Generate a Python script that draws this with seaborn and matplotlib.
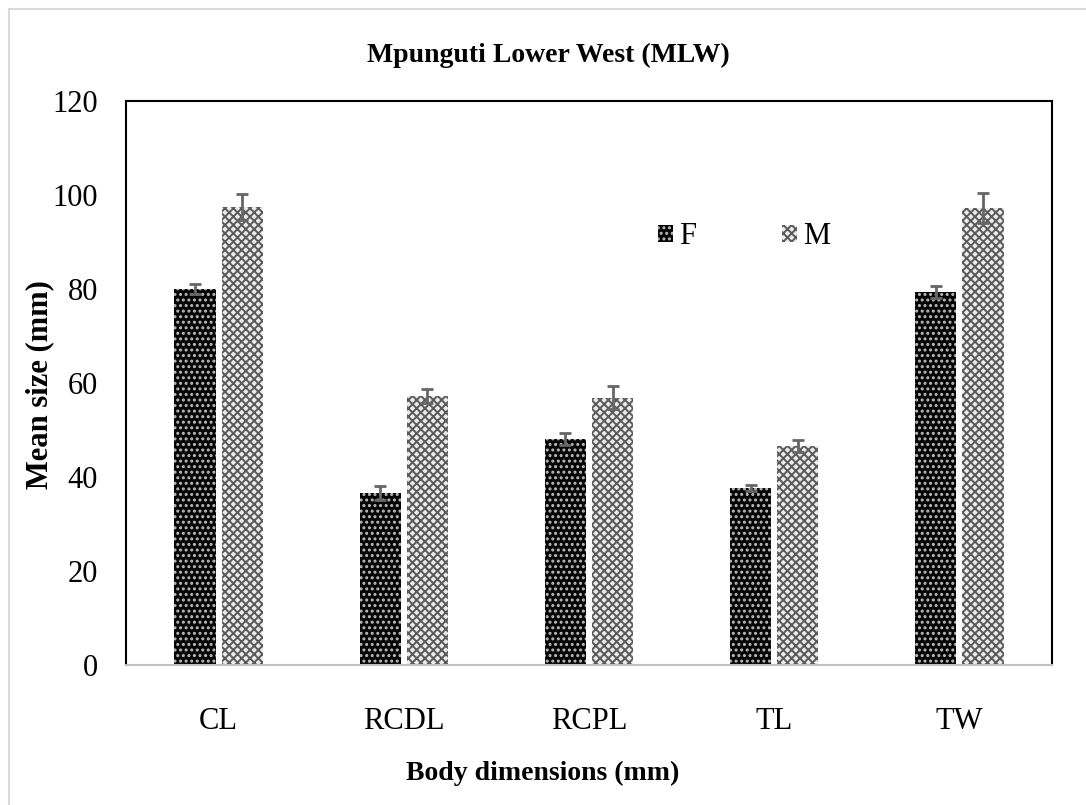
import matplotlib
matplotlib.use("Agg")
import matplotlib.pyplot as plt
import seaborn as sns
import pandas as pd
from matplotlib.patches import Patch, Rectangle

categories = ["CL", "RCDL", "RCPL", "TL", "TW"]
female_mean = [80.0, 36.5, 48.0, 37.6, 79.3]
female_err = [1.1, 1.5, 1.3, 0.6, 1.3]
male_mean = [97.4, 57.2, 56.9, 46.6, 97.2]
male_err = [2.8, 1.5, 2.4, 1.3, 3.2]
series = ["F", "M"]
yticks = [0, 20, 40, 60, 80, 100, 120]

df = pd.DataFrame({
    "dim": categories * 2,
    "sex": ["F"] * len(categories) + ["M"] * len(categories),
    "mean": female_mean + male_mean,
})
errs = {"F": female_err, "M": male_err}

sns.set_theme(style="white")
plt.rcParams["font.family"] = ["Liberation Serif", "DejaVu Serif"]
plt.rcParams["hatch.linewidth"] = 1.4
plt.rcParams["text.color"] = "black"

fig = plt.figure(figsize=(10.86, 8.05), dpi=100)
ax = fig.add_axes([0.116, 0.174, 0.8527, 0.7005])

face = {"F": "#050505", "M": "#ebebeb"}
hatch = {"F": "...", "M": "xxxx"}
hcol = {"F": "#bdbdbd", "M": "#5a5a5a"}

sns.barplot(data=df, x="dim", y="mean", hue="sex", hue_order=series,
            order=categories, palette=face, width=0.51, gap=0.13,
            errorbar=None, legend=False, ax=ax)

for cont, s in zip(ax.containers, series):
    xs, ys = [], []
    for bar in cont:
        bar.set_hatch(hatch[s])
        bar.set_edgecolor(hcol[s])
        bar.set_linewidth(0)
        xs.append(bar.get_x() + bar.get_width() / 2)
        ys.append(bar.get_height())
    ax.errorbar(xs, ys, yerr=errs[s], fmt="none", ecolor="#666666",
                elinewidth=2, capsize=4, capthick=2, zorder=5)

ax.set_ylim(0, 120)
ax.set_yticks(yticks)
ax.set_xlim(-0.5, len(categories) - 0.5)
ax.set_xlabel("")
ax.set_ylabel("")
ax.tick_params(axis="y", labelsize=22, pad=20, length=0, colors="black")
ax.tick_params(axis="x", labelsize=22, pad=30, length=0, colors="black")

for side in ["top", "right", "left"]:
    ax.spines[side].set_color("black")
    ax.spines[side].set_linewidth(1.5)
ax.spines["bottom"].set_color("#bfbfbf")
ax.spines["bottom"].set_linewidth(1.5)

handles = [Patch(facecolor=face[s], edgecolor=hcol[s], hatch=hatch[s], linewidth=0)
           for s in series]
leg = ax.legend(handles, series, loc="center left", bbox_to_anchor=(0.545, 0.759),
                ncol=2, frameon=False, fontsize=22, handlelength=0.5,
                handleheight=0.5, handletextpad=0.2, columnspacing=2.8)
for t in leg.get_texts():
    t.set_color("black")

fig.text(0.505, 1 - 55 / 805, "Mpunguti Lower West (MLW)", ha="center", va="center",
         fontsize=20, fontweight="bold", color="black")
fig.text(0.5, 1 - 773 / 805, "Body dimensions (mm)", ha="center", va="center",
         fontsize=20, fontweight="bold", color="black")
fig.text(40 / 1086, 1 - 385 / 805, "Mean size (mm)", ha="center", va="center",
         fontsize=22, fontweight="bold", rotation=90, color="black")

fig.patches.append(Rectangle((9 / 1086, -0.1), 1.2, 1 - 9 / 805 + 0.1,
                             transform=fig.transFigure, fill=False,
                             edgecolor="#d9d9d9", linewidth=1.5))

fig.savefig("out.png", dpi=100)
